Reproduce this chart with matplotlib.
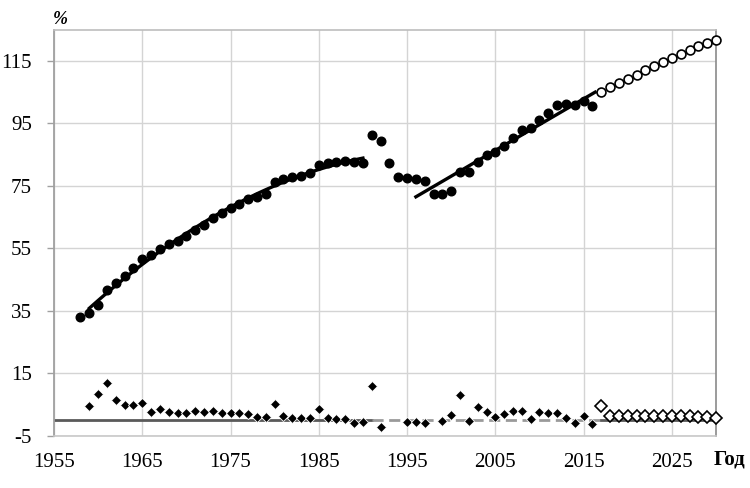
import numpy as np
import matplotlib
matplotlib.use("Agg")
import matplotlib.pyplot as plt

plt.rcParams['font.family'] = ['Liberation Serif', 'DejaVu Serif']
plt.rcParams['axes.unicode_minus'] = False

# ---- data ----
years_hist = list(range(1958, 2017))
level_hist = [32.9, 34.2, 36.9, 41.6, 44.0, 46.1, 48.7, 51.5, 52.9, 54.7,
              56.3, 57.4, 59.0, 60.9, 62.5, 64.6, 66.2, 67.8, 69.2, 70.8,
              71.3, 72.5, 76.1, 77.2, 77.9, 78.2, 79.0, 81.7, 82.3, 82.7,
              83.1, 82.5, 82.2, 91.2, 89.5, 82.3, 77.8, 77.6, 77.1, 76.5,
              72.5, 72.3, 73.5, 79.3, 79.3, 82.5, 84.9, 85.9, 87.7, 90.2,
              93.0, 93.6, 95.9, 98.2, 100.7, 101.2, 100.7, 102.0, 100.5]

years_fc = list(range(2017, 2031))
level_fc = [105.0, 106.6, 108.0, 109.3, 110.6, 112.0, 113.4, 114.6, 115.8,
            117.1, 118.4, 119.6, 120.8, 121.7]

years_growth = list(range(1959, 2017))
# annual change, %; NaN = value below the visible range (< -5)
growth_hist = [4.7, 8.4, 11.9, 6.5, 5.0, 5.0, 5.7, 2.7, 3.6, 2.6,
               2.5, 2.3, 3.0, 2.7, 3.0, 2.5, 2.3, 2.3, 2.1, 1.2,
               1.0, 5.2, 1.4, 0.9, 0.9, 0.9, 3.6, 0.9, 0.35, 0.35,
               -0.7, -0.6, 11.1, -2.0, np.nan, np.nan, -0.5, -0.5, -0.8, np.nan,
               -0.3, 1.6, 8.2, -0.1, 4.2, 2.7, 1.0, 2.1, 3.1, 3.1,
               0.55, 2.7, 2.3, 2.5, 0.9, -0.8, 1.4, -1.1]

years_growth_fc = list(range(2017, 2031))
growth_fc = [4.6, 1.5, 1.5, 1.5, 1.4, 1.4, 1.4, 1.4, 1.3, 1.3, 1.3, 1.2, 1.1, 0.9]

# trend fits: (first year used, last year used, draw from, draw to, degree)
trend1_span = (1959, 1990, 1959, 1990, 2)
trend2_span = (1996, 2016, 1996, 2016.3, 1)

# zero reference line segments
zero_segments = [(1955, 1991, '-', '#5a5a5a'),
                 (1991, 2017, (0, (4, 2)), '#9a9a9a'),
                 (2017, 2030, '-', '#5a5a5a')]

x_ticks = [1955, 1965, 1975, 1985, 1995, 2005, 2015, 2025]
y_ticks = [-5, 15, 35, 55, 75, 95, 115]

# ---- figure ----
fig = plt.figure(figsize=(7.5, 4.88), dpi=100)
ax = fig.add_axes([54 / 750, 1 - 436 / 488, (716 - 54) / 750, (436 - 29.5) / 488])

ax.set_xlim(1955, 2030)
ax.set_ylim(-5, 125)
ax.set_xticks(x_ticks)
ax.set_yticks(y_ticks)
ax.grid(True, color='#d4d4d4', linewidth=1.0)
ax.set_axisbelow(True)

ax.spines['left'].set_color('#a0a0a0')
ax.spines['left'].set_linewidth(1.3)
ax.spines['top'].set_color('#bdbdbd')
ax.spines['bottom'].set_color('#c8c8c8')
ax.spines['right'].set_color('#8a8a8a')
for s in ['top', 'bottom', 'right']:
    ax.spines[s].set_linewidth(1.2)

ax.tick_params(axis='x', length=0, pad=12, labelsize=15)
ax.tick_params(axis='y', length=5, width=1, color='#a0a0a0', pad=11, labelsize=15)

# zero lines
for x0, x1, ls, col in zero_segments:
    ax.plot([x0, x1], [0, 0], linestyle=ls, color=col, linewidth=2.0, zorder=2)

yh = np.array(years_hist, dtype=float)
lh = np.array(level_hist)

# trend lines (polynomial fits of the data)
for a, b, d0, d1, deg in [trend1_span, trend2_span]:
    m = (yh >= a) & (yh <= b)
    c = np.polyfit(yh[m] - 1990, lh[m], deg)
    xs = np.linspace(d0, d1, 100)
    ax.plot(xs, np.polyval(c, xs - 1990), color='black', linewidth=2.4, zorder=3)

ax.plot(years_hist, level_hist, linestyle='none', marker='o', markersize=6.2,
        color='black', zorder=4, clip_on=False)
ax.plot(years_fc, level_fc, linestyle='none', marker='o', markersize=6.4,
        markerfacecolor='white', markeredgecolor='black', markeredgewidth=1.2,
        zorder=4, clip_on=False)

ax.plot(years_growth, growth_hist, linestyle='none', marker='D', markersize=5.4,
        color='black', markeredgecolor='white', markeredgewidth=0.6, zorder=4)
ax.plot(years_growth_fc, growth_fc, linestyle='none', marker='D', markersize=6.2,
        markerfacecolor='white', markeredgecolor='black', markeredgewidth=1.2,
        zorder=4, clip_on=False)

fig.text(60 / 750, 1 - 19 / 488, '%', fontsize=13, fontweight='bold', fontstyle='italic',
         ha='center', va='center')
fig.text(729 / 750, 1 - 460 / 488, 'Год', fontsize=15, fontweight='bold',
         ha='center', va='center')

fig.savefig('out.png', dpi=100)
